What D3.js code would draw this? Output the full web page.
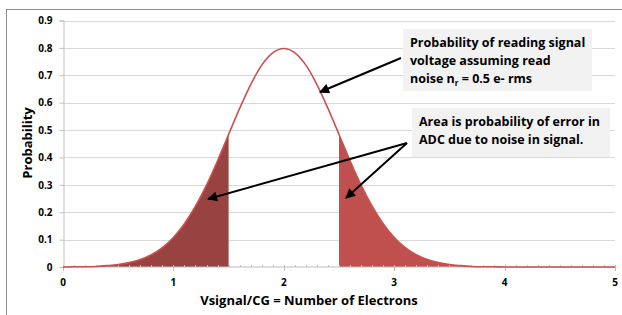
<!DOCTYPE html>
<html>
  <body style="margin:0;background:#fff">
    <style>
      text { font-family: "Open Sans", "Liberation Sans", sans-serif; font-weight: bold; fill: #000; }
    </style>
    <script src="https://d3js.org/d3.v7.min.js"></script>
    <script type="text/javascript">

      const width = 622;
      const height = 315;

      // electrons (x categories)
      const electrons = [0, 0.1, 0.2, 0.3, 0.4, 0.5, 0.6, 0.7, 0.8, 0.9,
        1, 1.1, 1.2, 1.3, 1.4, 1.5, 1.6, 1.7, 1.8, 1.9,
        2, 2.1, 2.2, 2.3, 2.4, 2.5, 2.6, 2.7, 2.8, 2.9,
        3, 3.1, 3.2, 3.3, 3.4, 3.5, 3.6, 3.7, 3.8, 3.9,
        4, 4.1, 4.2, 4.3, 4.4, 4.5, 4.6, 4.7, 4.8, 4.9, 5];
      const probability = [0.000, 0.001, 0.001, 0.002, 0.005, 0.009, 0.016, 0.027, 0.045, 0.071,
        0.108, 0.158, 0.222, 0.299, 0.388, 0.484, 0.579, 0.666, 0.737, 0.782,
        0.798, 0.782, 0.737, 0.666, 0.579, 0.484, 0.388, 0.299, 0.222, 0.158,
        0.108, 0.071, 0.045, 0.027, 0.016, 0.009, 0.005, 0.002, 0.001, 0.001,
        0.000, 0.000, 0.000, 0.000, 0.000, 0.000, 0.000, 0.000, 0.000, 0.000, 0.000];
      const lowErrorEnd = 1.5;
      const highErrorStart = 2.5;
      const xTicks = [0, 1, 2, 3, 4, 5];
      const yTicks = [0, 0.1, 0.2, 0.3, 0.4, 0.5, 0.6, 0.7, 0.8, 0.9];

      const data = electrons.map((e, i) => ({ x: e, y: probability[i] }));

      const svg = d3.select('body')
        .append('svg')
        .attr('width', width)
        .attr('height', height);

      // chart frame
      svg.append('rect')
        .attr('x', 6.5).attr('y', 9.5)
        .attr('width', 640).attr('height', 340)
        .attr('fill', 'none')
        .attr('stroke', '#8c8c8c');

      const xScale = d3.scaleLinear().domain([0, 5]).range([63, 615]);
      const yScale = d3.scaleLinear().domain([0, 0.9]).range([267, 20.5]);

      // gridlines
      svg.append('g')
        .selectAll('line')
        .data(yTicks.filter((d) => d > 0))
        .enter()
        .append('line')
        .attr('x1', xScale(0)).attr('x2', xScale(5))
        .attr('y1', (d) => Math.round(yScale(d)) + 0.5)
        .attr('y2', (d) => Math.round(yScale(d)) + 0.5)
        .attr('stroke', '#d9d9d9');

      // y axis
      const axisLeft = d3.axisLeft(yScale).tickValues(yTicks)
        .tickFormat((d) => d === 0 ? '0' : d3.format('.1f')(d))
        .tickSize(4).tickPadding(7);
      const gy = svg.append('g')
        .attr('transform', `translate(${xScale(0) + 0.5}, 0)`)
        .call(axisLeft);
      gy.select('.domain').attr('stroke', '#bfbfbf');
      gy.selectAll('.tick line').attr('stroke', '#bfbfbf');
      gy.selectAll('.tick text').attr('font-size', 10).attr('font-family', '"Open Sans", sans-serif').attr('fill', '#000');

      // shaded areas
      const area = d3.area()
        .x((d) => xScale(d.x))
        .y0(yScale(0))
        .y1((d) => yScale(d.y))
        .curve(d3.curveMonotoneX);

      svg.append('path')
        .datum(data.filter((d) => d.x <= lowErrorEnd + 1e-9))
        .attr('d', area)
        .attr('fill', '#984341');

      svg.append('path')
        .datum(data.filter((d) => d.x >= highErrorStart - 1e-9))
        .attr('d', area)
        .attr('fill', '#c0504d');

      // x axis
      const gx = svg.append('g')
        .attr('transform', `translate(0, ${yScale(0)})`);
      gx.append('line')
        .attr('x1', xScale(0)).attr('x2', xScale(5))
        .attr('stroke', '#bfbfbf');
      gx.selectAll('.minor')
        .data(electrons)
        .enter()
        .append('line')
        .attr('x1', (d) => Math.round(xScale(d)) + 0.5)
        .attr('x2', (d) => Math.round(xScale(d)) + 0.5)
        .attr('y1', -2)
        .attr('y2', (d) => xTicks.includes(d) ? 4 : 0)
        .attr('stroke', '#bfbfbf');
      gx.selectAll('.label')
        .data(xTicks)
        .enter()
        .append('text')
        .attr('x', (d) => xScale(d))
        .attr('y', 19)
        .attr('text-anchor', 'middle')
        .attr('font-size', 10)
        .text((d) => d);

      // probability curve
      const line = d3.line()
        .x((d) => xScale(d.x))
        .y((d) => yScale(d.y))
        .curve(d3.curveMonotoneX);

      svg.append('path')
        .datum(data)
        .attr('d', line)
        .attr('fill', 'none')
        .attr('stroke', '#c9514e')
        .attr('stroke-width', 1.6);

      // axis titles
      svg.append('text')
        .attr('x', 309)
        .attr('y', 305)
        .attr('text-anchor', 'middle')
        .attr('font-size', 13)
        .text('Vsignal/CG = Number of Electrons');

      svg.append('text')
        .attr('transform', 'translate(32, 143) rotate(-90)')
        .attr('text-anchor', 'middle')
        .attr('font-size', 13)
        .text('Probability');

      // annotations
      svg.append('rect')
        .attr('x', 403).attr('y', 29)
        .attr('width', 189).attr('height', 62)
        .attr('fill', '#f2f2f2');
      const note1 = svg.append('text').attr('font-size', 12.5);
      note1.append('tspan').attr('x', 410).attr('y', 47).text('Probability of reading signal');
      note1.append('tspan').attr('x', 410).attr('y', 65).text('voltage assuming read');
      note1.append('tspan').attr('x', 410).attr('y', 83).text('noise n');
      note1.append('tspan').attr('font-size', 8).attr('dy', 3).text('r');
      note1.append('tspan').attr('dy', -3).text(' = 0.5 e- rms');

      svg.append('rect')
        .attr('x', 412).attr('y', 108)
        .attr('width', 198).attr('height', 49)
        .attr('fill', '#f2f2f2');
      const note2 = svg.append('text').attr('font-size', 12.5);
      note2.append('tspan').attr('x', 419).attr('y', 126).text('Area is probability of error in');
      note2.append('tspan').attr('x', 419).attr('y', 144).text('ADC due to noise in signal.');

      // arrows
      svg.append('defs').append('marker')
        .attr('id', 'head')
        .attr('viewBox', '0 0 10 10')
        .attr('refX', 9).attr('refY', 5)
        .attr('markerWidth', 5.5).attr('markerHeight', 5)
        .attr('markerUnits', 'strokeWidth')
        .attr('orient', 'auto')
        .append('path')
        .attr('d', 'M0,0 L10,5 L0,10 z')
        .attr('fill', '#000');

      const arrows = [
        [401, 58, 320, 92],
        [407, 143, 208, 199],
        [407, 143, 346, 198],
      ];
      svg.append('g')
        .selectAll('line')
        .data(arrows)
        .enter()
        .append('line')
        .attr('x1', (d) => d[0]).attr('y1', (d) => d[1])
        .attr('x2', (d) => d[2]).attr('y2', (d) => d[3])
        .attr('stroke', '#000')
        .attr('stroke-width', 2)
        .attr('marker-end', 'url(#head)');

    </script>
  </body>
</html>
